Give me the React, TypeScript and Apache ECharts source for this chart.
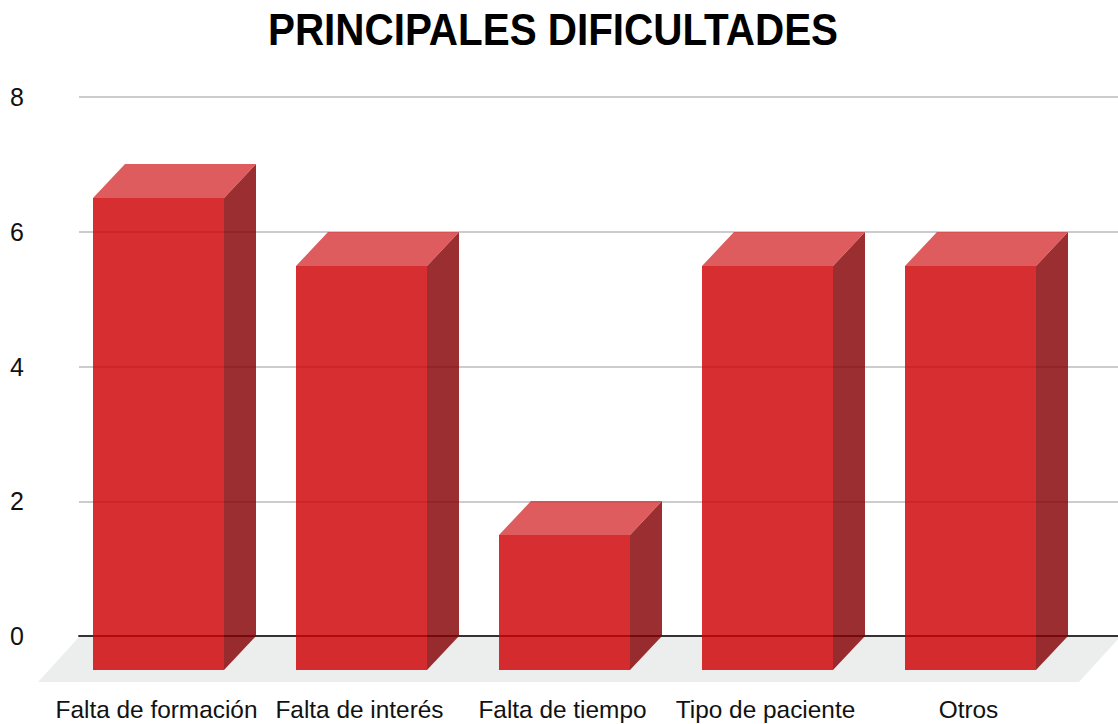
import React, { useEffect, useRef } from "react";
import * as echarts from "echarts";

const categories = ["Falta de formación", "Falta de interés", "Falta de tiempo", "Tipo de paciente", "Otros"];
const values = [7, 6, 2, 6, 6];
const yTicks = { min: 0, max: 8, interval: 2 };
const FONT = '"Liberation Sans", Arial, sans-serif';
const DX = 32;
const DY = 34;

function renderBar(params: any, api: any) {
  const base = api.coord([api.value(0), 0]);
  const top = api.coord([api.value(0), api.value(1)]);
  const w = Math.round(api.size([1, 0])[0] * 0.645);
  const l = Math.round(base[0] - w / 2);
  const r = l + w;
  const b = Math.round(base[1]);
  const t = Math.round(top[1]);
  return {
    type: "group",
    children: [
      {
        type: "polygon",
        shape: { points: [[r, t], [r + DX, t - DY], [r + DX, b - DY], [r, b]] },
        style: { fill: "#850004", opacity: 0.82 },
      },
      {
        type: "polygon",
        shape: { points: [[l, t], [l + DX, t - DY], [r + DX, t - DY], [r, t]] },
        style: { fill: "#d7383b", opacity: 0.82 },
      },
      {
        type: "rect",
        shape: { x: l, y: t, width: w, height: b - t },
        style: { fill: "#cd0004", opacity: 0.82 },
      },
    ],
  };
}

export default function App() {
  const ref = useRef<HTMLDivElement>(null);
  useEffect(() => {
    const chart = echarts.init(ref.current!, undefined, { renderer: "svg" });
    chart.setOption({
      animation: false,
      backgroundColor: "#ffffff",
      graphic: [
        {
          type: "polygon",
          z: -1,
          shape: { points: [[79, 637], [1120, 637], [1079, 682], [38, 682]] },
          style: { fill: "#eceeee" },
        },
        {
          type: "text",
          x: 553,
          y: 29.5,
          scaleX: 0.898,
          style: {
            text: "PRINCIPALES DIFICULTADES",
            fill: "#000000",
            font: `bold 45px ${FONT}`,
            textAlign: "center",
            textVerticalAlign: "middle",
          },
        },
      ],
      grid: [
        { left: 79, right: 0, top: 97, height: 539 },
        { left: 57, width: 1015, top: 131, height: 539 },
      ],
      xAxis: [
        {
          gridIndex: 0,
          type: "category",
          data: categories,
          axisLine: { show: true, lineStyle: { color: "#333333", width: 2 } },
          axisTick: { show: false },
          axisLabel: { show: false },
          splitLine: { show: false },
        },
        {
          gridIndex: 1,
          type: "category",
          data: categories,
          axisLine: { show: false },
          axisTick: { show: false },
          splitLine: { show: false },
          axisLabel: {
            interval: 0,
            margin: 27,
            fontFamily: FONT,
            fontSize: 24.4,
            color: "#111111",
            hideOverlap: false,
            padding: [0, 4, 0, 0],
          },
        },
      ],
      yAxis: [
        {
          gridIndex: 0,
          type: "value",
          ...yTicks,
          axisLine: { show: false },
          axisTick: { show: false },
          splitLine: { show: true, lineStyle: { color: "#cccccc", width: 2 } },
          axisLabel: { margin: 55, fontFamily: FONT, fontSize: 25, color: "#111111" },
        },
        {
          gridIndex: 1,
          type: "value",
          ...yTicks,
          show: false,
          splitLine: { show: false },
        },
      ],
      series: [
        {
          type: "custom",
          xAxisIndex: 1,
          yAxisIndex: 1,
          clip: false,
          renderItem: renderBar,
          encode: { x: 0, y: 1 },
          data: values.map((v, i) => [i, v]),
        },
      ],
    });
    return () => chart.dispose();
  }, []);
  return <div ref={ref} style={{ position: "absolute", left: 0, top: 0, width: 1118, height: 724 }} />;
}
